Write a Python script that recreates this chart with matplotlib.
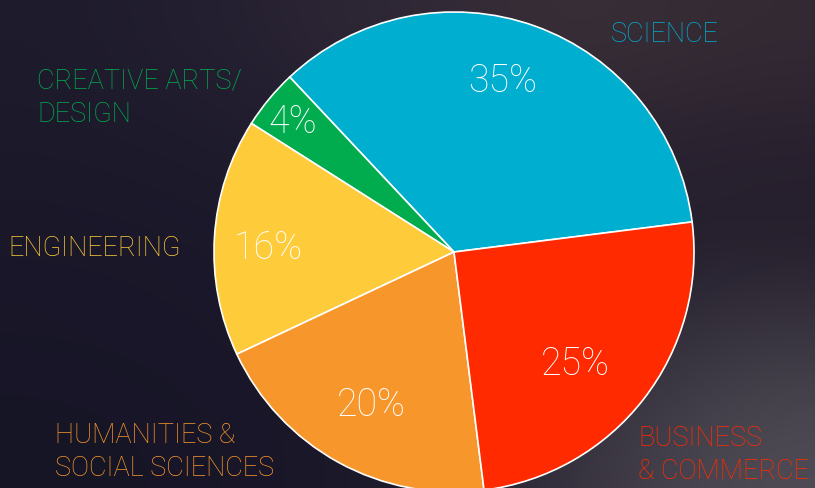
import numpy as np
import matplotlib
matplotlib.use('Agg')
import matplotlib.pyplot as plt

categories = ['SCIENCE', 'CREATIVE ARTS/\nDESIGN', 'ENGINEERING',
              'HUMANITIES &\nSOCIAL SCIENCES', 'BUSINESS\n& COMMERCE']
shares = [35, 4, 16, 20, 25]
colors = ['#00AECF', '#00AC4E', '#FECB3A', '#F7962B', '#FF2A00']

# where the category names and the % texts sit (pixels, y from the top)
label_xy = [(611, 35), (37, 98), (8, 249), (55, 452), (638, 455)]
pct_xy = [(503, 81), (293, 122), (268, 248), (371, 405), (575, 364)]

W, H = 815, 488
cx, cy, R = 454, 252, 240

plt.rcParams['font.family'] = ['Roboto', 'DejaVu Sans']

fig = plt.figure(figsize=(W / 100, H / 100), dpi=100)
ax = fig.add_axes([0, 0, 1, 1])

# blurry dark backdrop
bg = np.array([
    [[30, 27, 44], [38, 33, 50], [48, 40, 54], [58, 48, 56], [52, 42, 52]],
    [[27, 25, 42], [30, 27, 45], [36, 31, 48], [44, 36, 50], [40, 32, 46]],
    [[25, 23, 40], [26, 24, 42], [30, 27, 44], [36, 30, 46], [36, 30, 44]],
    [[24, 22, 40], [25, 23, 41], [28, 25, 43], [40, 36, 50], [60, 56, 66]],
    [[22, 21, 38], [24, 22, 40], [28, 25, 42], [55, 50, 62], [80, 76, 86]],
]) / 255.0
ax.imshow(bg, extent=(0, W, 0, H), interpolation='bicubic', aspect='auto', zorder=0)

wedges, _ = ax.pie(shares, colors=colors, startangle=7.2, counterclock=True,
                   center=(cx, H - cy), radius=R, frame=True,
                   wedgeprops=dict(edgecolor='white', linewidth=1.2))
ax.set_xlim(0, W)
ax.set_ylim(0, H)
ax.set_aspect('auto')
ax.axis('off')

for (px, py), s in zip(pct_xy, shares):
    ax.text(px, H - py, f'{s}%', color='white', fontsize=27, fontweight='light',
            ha='center', va='center')

for (lx, ly), name, c in zip(label_xy, categories, colors):
    ax.text(lx, H - ly, name, color=c, fontsize=19.5, fontweight='light',
            ha='left', va='center', linespacing=1.3)

fig.savefig('out.png', dpi=100)
